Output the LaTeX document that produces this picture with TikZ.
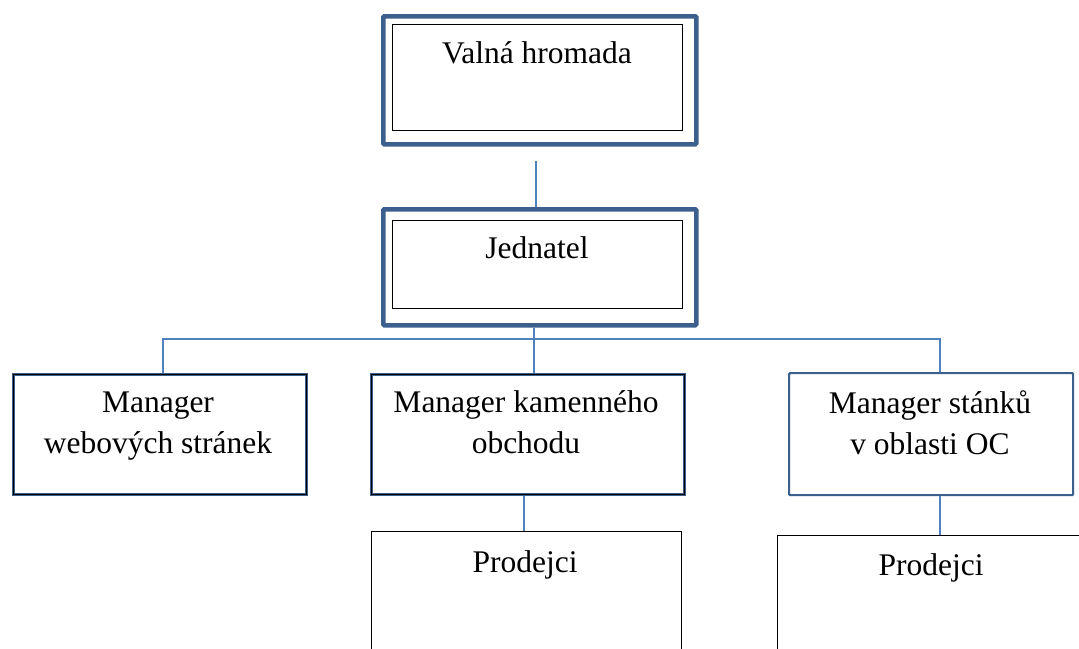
\documentclass[tikz,border=0pt]{standalone}
\usepackage{fontspec}
\setmainfont{Liberation Serif}
\definecolor{boxblue}{HTML}{3C5F8E}
\definecolor{lineblue}{HTML}{4F81BD}
\tikzset{
  x=1pt, y=-1pt,
  txt/.style={anchor=base, font=\fontsize{31.5}{41}\selectfont, inner sep=0pt, align=center},
  heavy/.style={draw=boxblue, line width=4.5pt, rounded corners=1pt},
  innerbox/.style={draw=black, line width=1pt},
  mgrblack/.style={draw=boxblue, line width=3.2pt, postaction={draw=black, line width=1.4pt}},
  mgrblue/.style={draw=boxblue, line width=2.2pt, rounded corners=1pt},
  plain/.style={draw=black, line width=1.2pt},
  conn/.style={draw=lineblue, line width=1.3pt},
  box/.style={rectangle, inner sep=0pt, anchor=north west}
}
\begin{document}
\begin{tikzpicture}
\useasboundingbox (0,0) rectangle (1079,648);
\begin{scope}
\clip (0,0) rectangle (1079,648);
% top
\node[box, heavy, minimum width=313pt, minimum height=128pt] (vh) at (381,14) {};
\node[box, innerbox, minimum width=290pt, minimum height=106pt] (vhi) at (392,24) {};
\node[txt] (vht) at (537,63) {Valná hromada};
% jednatel
\node[box, heavy, minimum width=313pt, minimum height=116pt] (jd) at (381,207) {};
\node[box, innerbox, minimum width=290pt, minimum height=88pt] (jdi) at (392,220) {};
\node[txt] (jdt) at (537,258) {Jednatel};
% managers
\node[box, mgrblack, minimum width=293pt, minimum height=120pt] (mw) at (12,373) {};
\node[txt] (mwt) at (158,453) {Manager\\webových stránek};
\node[box, mgrblack, minimum width=313pt, minimum height=120pt] (mk) at (370,373) {};
\node[txt] (mkt) at (526,453) {Manager kamenného\\obchodu};
\node[box, mgrblue, minimum width=284pt, minimum height=122pt] (ms) at (788,372) {};
\node[txt] (mst) at (930,454) {Manager stánků\\v oblasti OC};
% prodejci
\node[box, plain, minimum width=310pt, minimum height=140pt] (p1) at (371,531) {};
\node[txt] (p1t) at (525,572) {Prodejci};
\node[box, plain, minimum width=320pt, minimum height=140pt] (p2) at (777,535) {};
\node[txt] (p2t) at (931,575) {Prodejci};
% connectors
\coordinate (c0) at (536,161);
\draw[conn] (c0) -- (c0 |- jd.north);
\coordinate (bus) at (534,339);
\draw[conn] (jd.south -| bus) -- (bus);
\draw[conn] (mw.north -| 163,0) -- (163,339) -- (940,339) -- (ms.north -| 940,0);
\draw[conn] (bus) -- (mk.north -| bus);
\draw[conn] (mk.south -| 524,0) -- (p1.north -| 524,0);
\draw[conn] (ms.south -| 940,0) -- (p2.north -| 940,0);
\end{scope}
\end{tikzpicture}
\end{document}
